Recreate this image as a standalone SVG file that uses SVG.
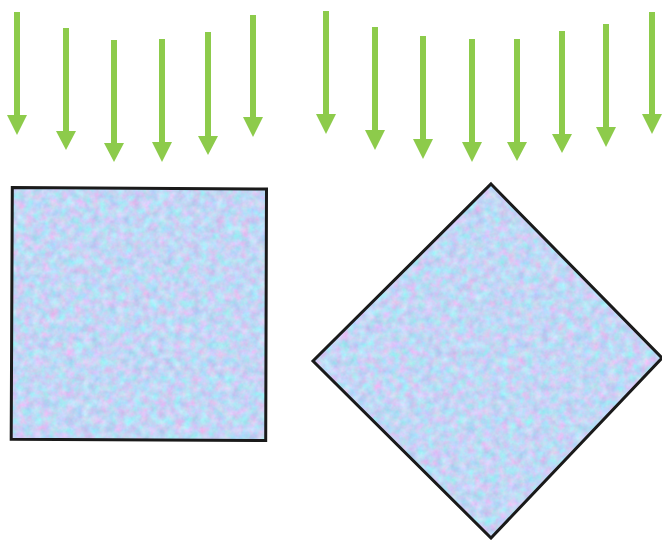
<svg xmlns="http://www.w3.org/2000/svg" width="662" height="540" viewBox="0 0 662 540">
<style>
.arrow{fill:#8dcb4b;stroke:none}
.edge{fill:none;stroke:#1a1a1a;stroke-width:3;stroke-linejoin:miter}
.tex{fill:#c4d2f4;filter:url(#noise)}
</style>
<defs>
<filter id="noise" x="-5%" y="-5%" width="110%" height="110%" color-interpolation-filters="sRGB">
<feTurbulence type="fractalNoise" baseFrequency="0.12" numOctaves="3" seed="7" result="n"/>
<feColorMatrix in="n" type="matrix" values="0.4 -0.14 0 0 0.63  -0.1 0.26 0.1 0 0.71  0 0 0.12 0 0.9  0 0 0 0 1" result="c"/>
<feComposite in="c" in2="SourceGraphic" operator="in"/>
</filter>
</defs>
<rect width="662" height="540" fill="#ffffff"/>
<g id="arrows">
<path class="arrow" d="M14 12H20V115H27L17 135L7 115H14Z"/>
<path class="arrow" d="M63 28H69V131H76L66 150L56 131H63Z"/>
<path class="arrow" d="M111 40H117V143H124L114 162L104 143H111Z"/>
<path class="arrow" d="M159 39H165V142H172L162 162L152 142H159Z"/>
<path class="arrow" d="M205 32H211V136H218L208 155L198 136H205Z"/>
<path class="arrow" d="M250 15H256V117H263L253 137L243 117H250Z"/>
<path class="arrow" d="M323 11H329V114H336L326 134L316 114H323Z"/>
<path class="arrow" d="M372 27H378V130H385L375 150L365 130H372Z"/>
<path class="arrow" d="M420 36H426V139H433L423 159L413 139H420Z"/>
<path class="arrow" d="M469 39H475V142H482L472 162L462 142H469Z"/>
<path class="arrow" d="M514 39H520V142H527L517 161L507 142H514Z"/>
<path class="arrow" d="M559 31H565V134H572L562 153L552 134H559Z"/>
<path class="arrow" d="M603 24H609V127H616L606 147L596 127H603Z"/>
<path class="arrow" d="M649 12H655V114H662L652 134L642 114H649Z"/>
</g>
<g id="square">
<polygon class="tex" points="12.3,187.5 266.5,189 265.7,440.5 11.2,439.3"/>
<polygon class="edge" points="12.3,187.5 266.5,189 265.7,440.5 11.2,439.3"/>
</g>
<g id="diamond">
<polygon class="tex" points="491,184 662,358 491,538 313,361"/>
<polygon class="edge" points="491,184 662,358 491,538 313,361"/>
</g>
</svg>
